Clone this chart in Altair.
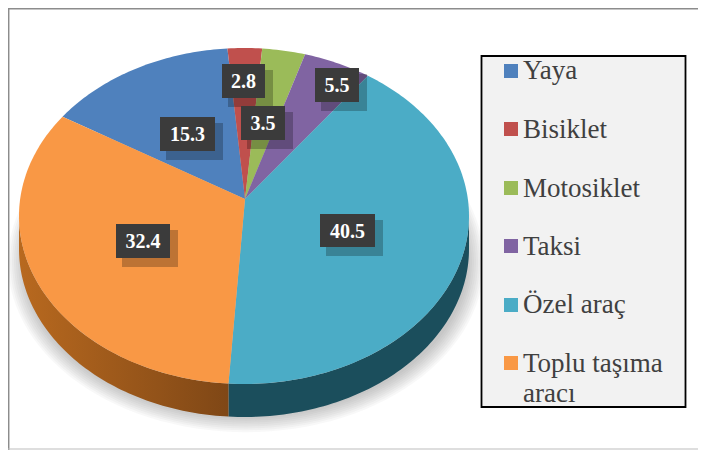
import math
import altair as alt
import pandas as pd

# ---- chart values
CATEGORIES = ["Yaya", "Bisiklet", "Motosiklet", "Taksi", "Özel araç", "Toplu taşıma aracı"]
VALUES = [15.3, 2.8, 3.5, 5.5, 40.5, 32.4]
COLORS = ["#4f81bd", "#c0504d", "#9bbb59", "#8064a2", "#4bacc6", "#f99845"]
LEGEND_LINES = [["Yaya"], ["Bisiklet"], ["Motosiklet"], ["Taksi"], ["Özel araç"], ["Toplu taşıma", "aracı"]]

# ---- layout (page pixels)
W, H = 690, 442
CX, CY, RX, RY = 244.0, 216.0, 225.0, 168.0
APEX = (245.0, 199.0)
DEPTH = 33.0
K = 0.88                # perspective compression of the tilted disc
START = -4.8 - 3.6 * VALUES[0]
LABEL_BOX = [(160, 215, 117, 151), (222, 265, 64, 98), (241, 285, 106, 140),
             (315, 359, 68, 102), (320, 375, 214, 247), (116, 170, 224, 258)]
LEGEND_Y = [71, 129, 188, 246, 305, 363]
LEGEND_BASE = [79, 138, 197, 255, 313, 372]
FONT = "Liberation Serif"


def rim_angle(theta):
    h = math.radians(theta) / 2
    return 2 * math.degrees(math.atan2(K * math.sin(h), math.cos(h)))


def rim(t, dy=0.0, rx=RX, ry=RY, cx=CX, cy=CY):
    a = math.radians(t)
    return cx + rx * math.sin(a), cy - ry * math.cos(a) + dy


# top-face wedges, built from the shares
rows, edges = [], []
acc = START
for name, v in zip(CATEGORIES, VALUES):
    a0, a1 = acc, acc + 3.6 * v
    edges.append((a0, a1))
    n = max(2, int(a1 - a0))
    pts = [APEX] + [rim(rim_angle(a0 + (a1 - a0) * j / n)) for j in range(n + 1)] + [APEX]
    rows += [{"name": name, "i": i, "x": p[0], "y": p[1]} for i, p in enumerate(pts)]
    acc = a1
top_df = pd.DataFrame(rows)

split = rim_angle(edges[4][1])   # teal / orange boundary on the front rim


def wall(t0, t1):
    n = 80
    ts = [t0 + (t1 - t0) * j / n for j in range(n + 1)]
    pts = [rim(t) for t in ts] + [rim(t, DEPTH) for t in reversed(ts)]
    pts.append(pts[0])
    return pd.DataFrame([{"i": i, "x": p[0], "y": p[1]} for i, p in enumerate(pts)])


shadow_rows = []
for r in range(9):
    for j in range(0, 361, 3):
        x, y = rim(j, 0, 222 + r * 2, 155 + r * 1.9, 246, 262)
        shadow_rows.append({"ring": r, "i": j, "x": x, "y": y})
shadow_df = pd.DataFrame(shadow_rows)

SX = alt.Scale(domain=[8, 8 + W], nice=False, zero=False)
SY = alt.Scale(domain=[8, 8 + H], reverse=True, nice=False, zero=False)
X = alt.X("x:Q", scale=SX, axis=None)
Y = alt.Y("y:Q", scale=SY, axis=None)
X2 = alt.X2("x2:Q")
Y2 = alt.Y2("y2:Q")

shadow = alt.Chart(shadow_df).mark_line(filled=True, fill="#5a5a66", fillOpacity=0.045, strokeWidth=0).encode(
    x=X, y=Y, detail="ring:N", order="i:Q")


def grad(c0, c1):
    return alt.Gradient(gradient="linear", x1=0, y1=0, x2=1, y2=0,
                        stops=[alt.GradientStop(offset=0, color=c0), alt.GradientStop(offset=1, color=c1)])


wall_teal = alt.Chart(wall(90, split)).mark_line(filled=True, fill="#1b4e5c", strokeWidth=0).encode(
    x=X, y=Y, order="i:Q")
wall_orange = alt.Chart(wall(split, 270)).mark_line(
    filled=True, fill=grad("#b8691f", "#7f4716"), strokeWidth=0).encode(x=X, y=Y, order="i:Q")

top = alt.Chart(top_df).mark_line(filled=True, strokeWidth=0).encode(
    x=X, y=Y, order="i:Q",
    fill=alt.Fill("name:N", scale=alt.Scale(domain=CATEGORIES, range=COLORS), legend=None))

box_df = pd.DataFrame([
    {"x": b[0], "x2": b[1], "y": b[2], "y2": b[3], "label": f"{v:.1f}",
     "cx": (b[0] + b[1]) / 2, "cy": (b[2] + b[3]) / 2,
     "sx": b[0] + 6, "sx2": b[1] + 8, "sy": b[2] + 6, "sy2": b[3] + 9}
    for b, v in zip(LABEL_BOX, VALUES)])

box_shadow = alt.Chart(box_df).mark_rect(color="#000000", opacity=0.24).encode(
    x=alt.X("sx:Q", scale=SX, axis=None), x2="sx2:Q",
    y=alt.Y("sy:Q", scale=SY, axis=None), y2="sy2:Q")
boxes = alt.Chart(box_df).mark_rect(color="#3b3b3b").encode(x=X, x2=X2, y=Y, y2=Y2)
box_text = alt.Chart(box_df).mark_text(
    font=FONT, fontSize=20, fontWeight="bold", color="#ffffff", baseline="middle", align="center", dy=1).encode(
    x=alt.X("cx:Q", scale=SX, axis=None), y=alt.Y("cy:Q", scale=SY, axis=None), text="label:N")

legend_box = alt.Chart(pd.DataFrame([{"x": 481.5, "x2": 685.5, "y": 56, "y2": 407}])).mark_rect(
    fill="#f2f2f2", stroke="#000000", strokeWidth=1.8).encode(x=X, x2=X2, y=Y, y2=Y2)

swatch_df = pd.DataFrame({"name": CATEGORIES, "x": [511] * 6, "y": LEGEND_Y})
swatches = alt.Chart(swatch_df).mark_square(size=196, opacity=1, filled=True, strokeWidth=0).encode(
    x=X, y=Y,
    fill=alt.Fill("name:N", scale=alt.Scale(domain=CATEGORIES, range=COLORS), legend=None))

text_rows = []
for lines, base in zip(LEGEND_LINES, LEGEND_BASE):
    for j, line in enumerate(lines):
        text_rows.append({"t": line, "x": 523, "y": base + j * 30})
legend_text = alt.Chart(pd.DataFrame(text_rows)).mark_text(
    font=FONT, fontSize=27, color="#404040", align="left", baseline="alphabetic").encode(x=X, y=Y, text="t:N")

frame_left = alt.Chart(pd.DataFrame([{"x": 8.7, "y": 8, "y2": 8 + H}])).mark_rule(
    color="#8c8c8c", strokeWidth=1.5).encode(x=X, y=Y, y2=Y2)
frame_top = alt.Chart(pd.DataFrame([{"y": 8.7, "x": 8, "x2": 8 + W}])).mark_rule(
    color="#8c8c8c", strokeWidth=1.5).encode(y=Y, x=X, x2=X2)
frame_bottom = alt.Chart(pd.DataFrame([{"y": 449, "x": 8, "x2": 8 + W}])).mark_rule(
    color="#bdbdbd", strokeWidth=1).encode(y=Y, x=X, x2=X2)

chart = alt.layer(
    shadow, wall_teal, wall_orange, top, box_shadow, boxes, box_text,
    legend_box, swatches, legend_text, frame_left, frame_top, frame_bottom,
).properties(
    width=W, height=H, padding=0, autosize=alt.AutoSizeParams(type="none"), background="#ffffff",
).configure_view(stroke=None)

chart.save("out.html", embed_options={"renderer": "svg", "actions": False})
